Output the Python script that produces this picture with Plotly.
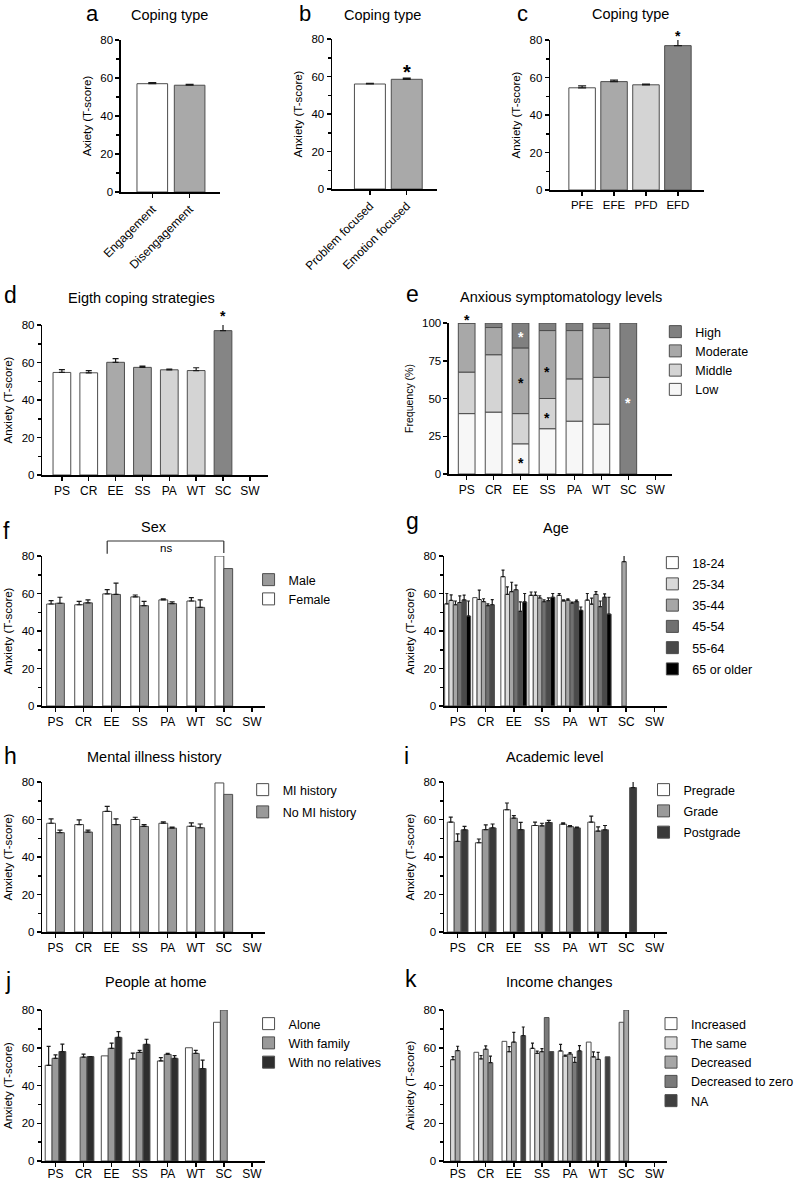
import plotly.graph_objects as go

W, H = 799, 1181
FONT = "Liberation Sans, Arial, Helvetica, sans-serif"

# ---------------- data ----------------
strategies = ["PS", "CR", "EE", "SS", "PA", "WT", "SC", "SW"]

# a  Coping type (engagement)
engagement_cats = ["Engagement", "Disengagement"]
engagement_vals = [57.0, 56.2]
engagement_err = [0.6, 0.5]

# b  Coping type (focus)
focus_cats = ["Problem focused", "Emotion focused"]
focus_vals = [56.0, 58.5]
focus_err = [0.4, 0.6]

# c  Coping type (combined)
combo_cats = ["PFE", "EFE", "PFD", "EFD"]
combo_vals = [54.5, 57.8, 56.1, 77.0]
combo_err = [1.0, 0.8, 0.4, 3.5]

# d  Eight coping strategies
strat_vals = [54.7, 54.5, 60.1, 57.4, 56.1, 55.7, 77.0, None]
strat_err = [1.5, 1.2, 2.0, 0.7, 0.4, 1.5, 3.5, None]

# e  Anxious symptomatology levels (% per level)
level_names = ["Low", "Middle", "Moderate", "High"]
level_low = [40, 41, 20, 30, 35, 33, 0, None]
level_middle = [27.5, 38, 20, 20, 28, 31, 0, None]
level_moderate = [32.5, 18, 43.5, 45, 32, 32.5, 0, None]
level_high = [0, 3, 16.5, 5, 5, 3.5, 100, None]

# f  Sex
sex_names = ["Female", "Male"]
female_vals = [54.4, 54.0, 59.8, 58.2, 56.6, 56.0, 80.0, None]
female_err = [1.8, 1.8, 2.3, 1.0, 0.5, 1.8, None, None]
male_vals = [54.8, 55.0, 59.5, 53.5, 54.6, 52.6, 73.3, None]
male_err = [3.2, 1.6, 6.0, 2.3, 0.9, 4.0, None, None]

# g  Age
age_names = ["18-24", "25-34", "35-44", "45-54", "55-64", "65 or older"]
age_18_vals = [54.5, 57.8, 69.0, 59.0, 59.0, 56.5, None, None]
age_18_err = [5.5, None, 3.5, 1.8, 1.0, 3.5, None, None]
age_25_vals = [56.3, 56.8, 59.5, 59.0, 56.0, 54.3, None, None]
age_25_err = [3.0, 5.0, 4.0, 1.8, 0.6, 3.2, None, None]
age_35_vals = [54.0, 55.7, 61.0, 57.6, 56.5, 59.5, 77.0, None]
age_35_err = [2.0, 1.5, 5.0, 1.2, 0.6, 1.5, 3.5, None]
age_45_vals = [55.2, 53.5, 62.0, 55.6, 54.8, 53.0, None, None]
age_45_err = [3.5, 1.0, 2.5, 1.0, 0.6, 3.0, None, None]
age_55_vals = [56.6, 54.0, 50.5, 56.2, 55.7, 58.0, None, None]
age_55_err = [2.5, 2.7, 5.0, 1.5, 0.8, 1.8, None, None]
age_65_vals = [48.0, None, 55.5, 58.0, 51.0, 49.0, None, None]
age_65_err = [8.0, None, 4.5, 2.0, 1.8, 9.0, None, None]

# h  Mental illness history
mi_names = ["MI history", "No MI history"]
mi_vals = [58.0, 57.3, 64.3, 60.0, 58.0, 56.4, 79.5, None]
mi_err = [2.3, 2.5, 2.7, 1.2, 0.7, 1.8, None, None]
nomi_vals = [53.0, 53.3, 57.3, 56.3, 55.4, 55.6, 73.4, None]
nomi_err = [1.3, 1.0, 3.0, 1.0, 0.5, 2.0, None, None]

# i  Academic level
acad_names = ["Pregrade", "Grade", "Postgrade"]
pre_vals = [58.6, 47.6, 65.2, 56.8, 57.5, 58.6, None, None]
pre_err = [2.7, 2.0, 3.6, 1.8, 0.7, 3.2, None, None]
grade_vals = [48.3, 54.6, 60.7, 56.6, 56.2, 53.8, None, None]
grade_err = [4.0, 2.5, 1.4, 1.4, 0.6, 2.3, None, None]
post_vals = [54.5, 55.5, 54.6, 58.4, 55.5, 54.5, 77.0, None]
post_err = [1.8, 2.1, 3.9, 1.1, 0.5, 2.3, 3.5, None]

# j  People at home
home_names = ["Alone", "With family", "With no relatives"]
alone_vals = [50.7, None, 55.7, 54.1, 53.0, 60.0, 73.5, None]
alone_err = [10.0, None, None, 3.0, 1.8, None, None, None]
family_vals = [54.4, 55.0, 59.7, 57.5, 56.5, 57.0, 80.0, None]
family_err = [1.8, 1.6, 2.7, 1.1, 0.5, 1.6, None, None]
norel_vals = [58.0, 55.3, 65.5, 61.8, 54.4, 49.0, None, None]
norel_err = [3.9, 0.0, 3.0, 2.7, 1.4, 4.4, None, None]

# k  Income changes
income_names = ["Increased", "The same", "Decreased", "Decreased to zero", "NA"]
inc_vals = [None, 57.6, 63.4, 59.7, 58.3, 63.0, None, None]
inc_err = [None, None, None, 2.7, 3.5, None, None, None]
same_vals = [53.7, 54.1, 57.9, 57.0, 55.6, 55.2, 73.5, None]
same_err = [1.6, 1.8, 2.7, 1.2, 0.5, 2.6, None, None]
dec_vals = [58.5, 59.2, 63.0, 57.9, 56.7, 53.8, 80.0, None]
dec_err = [2.3, 1.8, 5.1, 1.6, 0.7, 3.7, None, None]
dz_vals = [None, 52.1, None, 76.0, 52.2, None, None, None]
dz_err = [None, 3.5, None, None, 2.7, None, None, None]
na_vals = [None, None, 66.4, 58.0, 58.3, 55.2, None, None]
na_err = [None, None, 4.6, None, 2.8, None, None, None]

# ---------------- layout geometry (pixels) ----------------
PANELS = ["a", "b", "c", "d", "e", "f", "g", "h", "i", "j", "k"]
GEOM = {
    "a": dict(x0=123, x1=224, ybase=192, ytop=40, p0=155, step=38, bw=0.82),
    "b": dict(x0=338, x1=445, ybase=189, ytop=39, p0=376.5, step=37.5, bw=0.84),
    "c": dict(x0=560, x1=717, ybase=190, ytop=40, p0=592.5, step=32.5, bw=0.83),
    "d": dict(x0=43, x1=273, ybase=475, ytop=325, p0=63, step=27.33, bw=0.66),
    "e": dict(x0=457, x1=684, ybase=474, ytop=323, p0=475, step=27.42, bw=0.62),
    "f": dict(x0=43, x1=270, ybase=706, ytop=556, p0=56.5, step=28.55, bw=0.315),
    "g": dict(x0=452, x1=679, ybase=706, ytop=556, p0=465.8, step=28.6, bw=0.154),
    "h": dict(x0=43, x1=270, ybase=932, ytop=782, p0=56.5, step=28.55, bw=0.315),
    "i": dict(x0=452, x1=679, ybase=932, ytop=782, p0=465.8, step=28.6, bw=0.245),
    "j": dict(x0=43, x1=270, ybase=1161, ytop=1010, p0=56.5, step=28.55, bw=0.245),
    "k": dict(x0=452, x1=679, ybase=1161, ytop=1010, p0=465.8, step=28.6, bw=0.168),
}
YMAX = {p: (100 if p == "e" else 80) for p in PANELS}
AX = {}
for n, p in enumerate(PANELS, start=1):
    AX[p] = ("x" if n == 1 else f"x{n}", "y" if n == 1 else f"y{n}", n)

fig = go.Figure()


def xrange_of(p):
    g = GEOM[p]
    return [(g["x0"] - g["p0"]) / g["step"], (g["x1"] - g["p0"]) / g["step"]]


def to_paper(p, xv, yv):
    g = GEOM[p]
    px = g["p0"] + xv * g["step"]
    py = g["ybase"] - yv / YMAX[p] * (g["ybase"] - g["ytop"])
    return px / W, 1 - py / H


def add_bars(p, vals, errs, color, k=0, m=1, name=None, legend=None,
             base=None, cap=3, showlegend=False, rank=None, line="#4d4d4d"):
    g = GEOM[p]
    w = g["bw"]
    xs = [i + (k - (m - 1) / 2) * w for i in range(len(vals))]
    xa, ya, _ = AX[p]
    kw = {}
    if legend:
        kw["legend"] = legend
    if rank is not None:
        kw["legendrank"] = rank
    fig.add_trace(go.Bar(
        x=xs, y=vals, base=base, width=w, name=name,
        marker=dict(color=color, line=dict(color=line, width=1)),
        xaxis=xa, yaxis=ya, showlegend=showlegend, cliponaxis=False,
        legendgroup=(p + str(k)), hoverinfo="skip", **kw))
    if errs is not None:
        ey = [v if (e is not None and v is not None) else None
              for v, e in zip(vals, errs)]
        fig.add_trace(go.Scatter(
            x=xs, y=ey, mode="markers", marker=dict(size=1, opacity=0),
            error_y=dict(type="data", symmetric=False,
                         array=[e if e is not None else 0 for e in errs],
                         arrayminus=[0] * len(errs),
                         color="#1a1a1a", thickness=1.2, width=cap),
            xaxis=xa, yaxis=ya, showlegend=False, cliponaxis=False,
            hoverinfo="skip"))


# a, b, c, d
add_bars("a", engagement_vals, engagement_err, ["white", "#a9a9a9"], cap=4)
add_bars("b", focus_vals, focus_err, ["white", "#a9a9a9"], cap=4)
add_bars("c", combo_vals, combo_err, ["white", "#a9a9a9", "#d4d4d4", "#858585"], cap=4)
strat_colors = ["white", "white", "#a9a9a9", "#a9a9a9", "#d4d4d4", "#d4d4d4", "#858585", "white"]
add_bars("d", strat_vals, strat_err, strat_colors, cap=3)

# e stacked
level_series = [level_low, level_middle, level_moderate, level_high]
level_colors = ["#f7f7f7", "#d4d4d4", "#a8a8a8", "#808080"]
cum = [0.0] * len(strategies)
for li, (series, col) in enumerate(zip(level_series, level_colors)):
    base = [c if v is not None else None for c, v in zip(cum, series)]
    add_bars("e", series, None, col, k=0, m=1, name=level_names[li], legend="legend",
             base=base, showlegend=True, rank=10 - li)
    cum = [c + (v or 0) for c, v in zip(cum, series)]

# f
add_bars("f", female_vals, female_err, "white", 0, 2, sex_names[0], "legend2",
         showlegend=True, cap=2.5, rank=2)
add_bars("f", male_vals, male_err, "#9a9a9a", 1, 2, sex_names[1], "legend2",
         showlegend=True, cap=2.5, rank=1)

# g
age_series = [(age_18_vals, age_18_err), (age_25_vals, age_25_err), (age_35_vals, age_35_err),
              (age_45_vals, age_45_err), (age_55_vals, age_55_err), (age_65_vals, age_65_err)]
age_colors = ["white", "#d9d9d9", "#a6a6a6", "#707070", "#4a4a4a", "#000000"]
for k, ((v, e), col) in enumerate(zip(age_series, age_colors)):
    add_bars("g", v, e, col, k, 6, age_names[k], "legend3", showlegend=True, cap=1.5, rank=k + 1)

# h
add_bars("h", mi_vals, mi_err, "white", 0, 2, mi_names[0], "legend4", showlegend=True, cap=2.5, rank=1)
add_bars("h", nomi_vals, nomi_err, "#9a9a9a", 1, 2, mi_names[1], "legend4", showlegend=True, cap=2.5, rank=2)

# i
for k, (v, e, col) in enumerate([(pre_vals, pre_err, "white"),
                                  (grade_vals, grade_err, "#9a9a9a"),
                                  (post_vals, post_err, "#3a3a3a")]):
    add_bars("i", v, e, col, k, 3, acad_names[k], "legend5", showlegend=True, cap=2, rank=k + 1)

# j
for k, (v, e, col) in enumerate([(alone_vals, alone_err, "white"),
                                  (family_vals, family_err, "#9a9a9a"),
                                  (norel_vals, norel_err, "#2e2e2e")]):
    add_bars("j", v, e, col, k, 3, home_names[k], "legend6", showlegend=True, cap=2, rank=k + 1)

# k
for k, (v, e, col) in enumerate([(inc_vals, inc_err, "white"),
                                  (same_vals, same_err, "#d9d9d9"),
                                  (dec_vals, dec_err, "#a6a6a6"),
                                  (dz_vals, dz_err, "#7a7a7a"),
                                  (na_vals, na_err, "#404040")]):
    add_bars("k", v, e, col, k, 5, income_names[k], "legend7", showlegend=True, cap=1.5, rank=k + 1)

# ---------------- axes ----------------
TICKS = {"a": engagement_cats, "b": focus_cats, "c": combo_cats}
YTITLE = {"a": "Axiety (T-score)", "e": "Frequency (%)", "k": "Anixiety (T-score)"}
layout_axes = {}
for p in PANELS:
    xa, ya, n = AX[p]
    g = GEOM[p]
    ticks = TICKS.get(p, strategies)
    xkey = "xaxis" if n == 1 else f"xaxis{n}"
    ykey = "yaxis" if n == 1 else f"yaxis{n}"
    xfs = 12 if p in ("a", "b") else (11.5 if p == "c" else 12)
    layout_axes[xkey] = dict(
        domain=[g["x0"] / W, g["x1"] / W], range=xrange_of(p), anchor=ya,
        tickmode="array", tickvals=list(range(len(ticks))), ticktext=ticks,
        ticks="outside", ticklen=4, tickwidth=1.5, tickcolor="black",
        showline=True, linecolor="black", linewidth=1.5, showgrid=False,
        zeroline=False, automargin=False, fixedrange=True,
        ticklabelstandoff=-3 if p in ("j", "k") else 0,
        tickangle=-45 if p in ("a", "b") else 0,
        tickfont=dict(size=xfs, color="black"))
    ymax = YMAX[p]
    ydict = dict(
        domain=[1 - g["ybase"] / H, 1 - g["ytop"] / H], range=[0, ymax], anchor=xa,
        tick0=0, dtick=25 if p == "e" else 20,
        ticks="outside", ticklen=4, tickwidth=1.5, tickcolor="black",
        showline=True, linecolor="black", linewidth=1.5, showgrid=False,
        zeroline=False, automargin=False, fixedrange=True,
        tickfont=dict(size=11.5, color="black"),
        title=dict(text=YTITLE.get(p, "Anxiety (T-score)"),
                   font=dict(size=11.5 if p != "e" else 10.5, color="black"), standoff=6))
    if p != "e":
        ydict["minor"] = dict(ticks="outside", ticklen=3, tickwidth=1.5,
                              tickcolor="black", dtick=10, tick0=0, showgrid=False)
    layout_axes[ykey] = ydict

# ---------------- annotations ----------------
ann = []
shapes = []


def text_at(txt, xc, baseline, size):
    ann.append(dict(text=txt, x=xc / W, y=1 - (baseline + 0.212 * size + 1) / H,
                    xref="paper", yref="paper", xanchor="center", yanchor="bottom",
                    showarrow=False, font=dict(size=size, color="black")))


TITLES = [("Coping type", 173, 21), ("Coping type", 389, 21), ("Coping type", 642, 19.5),
          ("Eigth coping strategies", 144, 304), ("Anxious symptomatology levels", 571, 303),
          ("Sex", 157, 533), ("Age", 566, 534), ("Mental illness history", 157, 763),
          ("Academic level", 565, 763), ("People at home", 159, 988),
          ("Income changes", 569, 988)]
for t, xc, bl in TITLES:
    text_at(t, xc, bl, 14.5)

LETTERS = [("a", 94, 22, 22), ("b", 310, 22, 22), ("c", 532, 22, 22), ("d", 11, 304, 23),
           ("e", 420, 303, 23), ("f", 7, 540, 23), ("g", 420, 530, 23), ("h", 11, 765, 23),
           ("i", 414, 765, 23), ("j", 8, 990, 23), ("k", 418, 988, 23)]
for t, xc, bl, fs in LETTERS:
    text_at(t, xc, bl, fs)


def star(p, xv, yv, size, color="#000000"):
    sx, sy = to_paper(p, xv, yv)
    ann.append(dict(text="<b>*</b>", x=sx, y=sy, xref="paper", yref="paper", xanchor="center",
                    yanchor="middle", yshift=-0.22 * size, showarrow=False,
                    font=dict(size=size, color=color)))


star("b", 1, 65, 20)
star("c", 3, 84, 14)
star("d", 6, 86.4, 14)
star("e", 0, 104, 14)
star("e", 2, 92.7, 14, "#ffffff")
star("e", 2, 62, 14)
star("e", 2, 9, 14)
star("e", 3, 69.5, 14)
star("e", 3, 39, 14)
star("e", 6, 49, 14, "#ffffff")

# bracket in f (EE female -> SC)
wf = GEOM["f"]["bw"]
bx0, by_top = to_paper("f", 2 - wf / 2, 88)
bx1, by_leg = to_paper("f", 6, 81.6)
_, by_leg0 = to_paper("f", 2, 81.2)
for (x0, y0, x1, y1) in [(bx0, by_top, bx1, by_top), (bx0, by_top, bx0, by_leg0),
                         (bx1, by_top, bx1, by_leg)]:
    shapes.append(dict(type="line", xref="paper", yref="paper", x0=x0, x1=x1, y0=y0, y1=y1,
                       line=dict(color="#333", width=1.2)))
nsx, nsy = to_paper("f", (2 - wf / 2 + 6) / 2, 84.3)
ann.append(dict(text="ns", x=nsx, y=nsy, xref="paper", yref="paper", xanchor="center",
                yanchor="middle", showarrow=False, font=dict(size=11.5, color="black")))


# ---------------- legends ----------------
def legend_cfg(text_left, first_center, gap=0):
    return dict(x=(text_left - 36) / W, y=1 - (first_center - 15) / H,
                xanchor="left", yanchor="top", bgcolor="rgba(0,0,0,0)",
                font=dict(size=12.5, color="black", family=FONT),
                traceorder="grouped", tracegroupgap=gap, itemclick=False,
                itemdoubleclick=False, borderwidth=0)


fig.update_layout(
    width=W, height=H, margin=dict(l=0, r=0, t=0, b=0),
    paper_bgcolor="white", plot_bgcolor="white",
    font=dict(family=FONT, color="black"),
    barmode="overlay", showlegend=True,
    annotations=ann, shapes=shapes,
    legend=legend_cfg(703, 332, 0),
    legend2=legend_cfg(289, 580, 0),
    legend3=legend_cfg(700, 563, 2),
    legend4=legend_cfg(283, 790, 3),
    legend5=legend_cfg(691, 790, 2),
    legend6=legend_cfg(289, 1024, 0),
    legend7=legend_cfg(699, 1024, 0),
    **layout_axes,
)

fig.write_html("out.html", config={"displayModeBar": False, "staticPlot": True},
               post_script="document.body.style.margin='0';document.body.style.padding='0';")
